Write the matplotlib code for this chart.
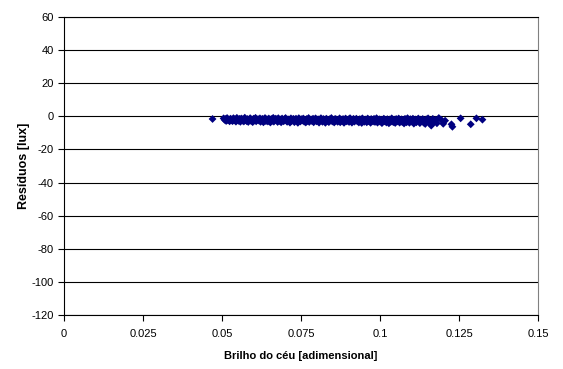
import matplotlib
matplotlib.use("Agg")
import matplotlib.pyplot as plt

plt.rcParams['font.family'] = ['Liberation Sans', 'DejaVu Sans']
plt.rcParams['axes.unicode_minus'] = False

brilho = [
    0.0505,0.0508,0.0511,0.0513,0.0516,0.0519,0.0522,0.0524,0.0527,0.0530,
    0.0533,0.0536,0.0538,0.0541,0.0544,0.0547,0.0550,0.0552,0.0555,0.0558,
    0.0561,0.0564,0.0566,0.0569,0.0572,0.0575,0.0578,0.0580,0.0583,0.0586,
    0.0589,0.0592,0.0594,0.0597,0.0600,0.0603,0.0606,0.0608,0.0611,0.0614,
    0.0617,0.0620,0.0622,0.0625,0.0628,0.0631,0.0634,0.0636,0.0639,0.0642,
    0.0645,0.0648,0.0650,0.0653,0.0656,0.0659,0.0662,0.0664,0.0667,0.0670,
    0.0673,0.0676,0.0678,0.0681,0.0684,0.0687,0.0690,0.0692,0.0695,0.0698,
    0.0701,0.0704,0.0706,0.0709,0.0712,0.0715,0.0718,0.0720,0.0723,0.0726,
    0.0729,0.0732,0.0734,0.0737,0.0740,0.0743,0.0746,0.0748,0.0751,0.0754,
    0.0757,0.0760,0.0762,0.0765,0.0768,0.0771,0.0774,0.0776,0.0779,0.0782,
    0.0785,0.0788,0.0790,0.0793,0.0796,0.0799,0.0802,0.0804,0.0807,0.0810,
    0.0813,0.0816,0.0818,0.0821,0.0824,0.0827,0.0830,0.0832,0.0835,0.0838,
    0.0841,0.0844,0.0846,0.0849,0.0852,0.0855,0.0858,0.0860,0.0863,0.0866,
    0.0869,0.0872,0.0874,0.0877,0.0880,0.0883,0.0886,0.0888,0.0891,0.0894,
    0.0897,0.0900,0.0902,0.0905,0.0908,0.0911,0.0914,0.0916,0.0919,0.0922,
    0.0925,0.0928,0.0930,0.0933,0.0936,0.0939,0.0942,0.0944,0.0947,0.0950,
    0.0953,0.0956,0.0958,0.0961,0.0964,0.0967,0.0970,0.0972,0.0975,0.0978,
    0.0981,0.0984,0.0986,0.0989,0.0992,0.0995,0.0998,0.1000,0.1003,0.1006,
    0.1009,0.1012,0.1014,0.1017,0.1020,0.1023,0.1026,0.1028,0.1031,0.1034,
    0.1037,0.1040,0.1042,0.1045,0.1048,0.1051,0.1054,0.1056,0.1059,0.1062,
    0.1065,0.1068,0.1070,0.1073,0.1076,0.1079,0.1082,0.1084,0.1087,0.1090,
    0.1093,0.1096,0.1098,0.1101,0.1104,0.1107,0.1110,0.1112,0.1115,0.1118,
    0.1121,0.1124,0.1126,0.1129,0.1132,0.1135,0.1138,0.1140,0.1143,0.1146,
    0.1149,0.1152,0.1156,0.1159,0.1163,0.1167,0.1171,0.1176,0.1180,0.1186,
    0.0470,0.1162,0.1193,0.1200,0.1206,0.1226,0.1229,0.1255,0.1287,0.1305,0.1324,
]

residuos = [
    -1.2,-2.1,-1.6,-2.8,-1.0,-2.4,-1.9,-3.0,-1.4,-2.2,
    -2.9,-1.1,-2.5,-1.7,-3.2,-0.9,-2.0,-2.7,-1.5,-3.3,
    -1.3,-2.6,-1.8,-3.1,-0.8,-2.3,-2.9,-1.6,-3.4,-2.0,
    -1.1,-2.8,-1.9,-3.5,-1.4,-2.5,-0.9,-3.0,-2.2,-1.7,
    -2.6,-1.2,-3.3,-2.0,-1.5,-3.6,-2.4,-1.0,-2.9,-1.8,
    -3.1,-1.3,-2.3,-3.7,-1.6,-2.7,-0.9,-3.2,-2.1,-1.4,
    -2.5,-3.4,-1.1,-2.8,-1.9,-3.6,-1.3,-2.2,-3.0,-1.7,
    -1.0,-2.6,-3.3,-1.8,-2.4,-3.8,-1.2,-2.9,-2.0,-1.5,
    -3.5,-2.1,-1.4,-2.7,-3.9,-1.1,-2.3,-3.1,-1.7,-2.5,
    -1.3,-3.2,-2.0,-3.7,-1.6,-2.8,-1.0,-3.4,-2.2,-1.9,
    -2.9,-1.4,-3.6,-2.4,-1.2,-3.0,-2.6,-1.8,-3.8,-2.1,
    -1.1,-2.7,-3.3,-1.6,-2.3,-3.9,-1.4,-2.9,-2.0,-3.5,
    -1.7,-2.5,-1.0,-3.1,-2.2,-3.7,-1.5,-2.8,-1.9,-3.3,
    -2.4,-1.2,-3.6,-2.0,-2.9,-1.6,-3.9,-2.3,-1.3,-3.0,
    -2.6,-1.8,-3.4,-1.1,-2.7,-3.8,-2.1,-1.5,-3.2,-2.4,
    -1.4,-3.0,-2.2,-3.7,-1.7,-2.8,-4.0,-1.2,-2.5,-3.3,
    -1.9,-2.6,-3.6,-1.3,-2.9,-2.1,-3.9,-1.6,-2.4,-3.1,
    -1.5,-3.4,-2.3,-1.1,-3.8,-2.7,-1.8,-3.2,-2.0,-4.1,
    -2.5,-1.4,-3.0,-2.2,-3.7,-1.7,-2.8,-4.2,-1.9,-3.3,
    -1.2,-2.6,-3.5,-2.0,-4.0,-1.6,-3.1,-2.4,-1.3,-3.8,
    -2.7,-1.8,-3.4,-2.1,-4.3,-1.5,-2.9,-3.6,-1.1,-2.3,
    -3.9,-1.7,-2.8,-3.2,-1.4,-4.4,-2.5,-1.9,-3.6,-2.2,
    -1.3,-3.1,-4.1,-2.0,-2.7,-1.6,-3.8,-2.4,-4.6,-1.8,
    -3.0,-1.2,-3.9,-2.5,-4.8,-1.5,-3.3,-2.1,-4.2,-1.0,
    -1.6,-5.6,-2.0,-4.5,-2.6,-4.8,-6.3,-1.2,-4.8,-1.2,-2.0,
]

x_ticks = [0, 0.025, 0.05, 0.075, 0.1, 0.125, 0.15]
x_labels = ['0', '0.025', '0.05', '0.075', '0.1', '0.125', '0.15']
y_ticks = [-120, -100, -80, -60, -40, -20, 0, 20, 40, 60]

fig = plt.figure(figsize=(5.63, 3.69), dpi=100)
ax = fig.add_axes([0.1137, 0.1463, 0.8420, 0.8076])

for yv in y_ticks:
    ax.axhline(yv, color='black', linewidth=0.8, zorder=1)

ax.scatter(brilho, residuos, marker='D', s=16, color='#000080',
           edgecolors='none', zorder=3)

ax.set_xlim(0, 0.15)
ax.set_ylim(-120, 60)
ax.set_xticks(x_ticks)
ax.set_xticklabels(x_labels)
ax.set_yticks(y_ticks)
ax.tick_params(axis='both', direction='out', length=4, width=0.8,
               labelsize=8, colors='black')
ax.tick_params(axis='x', pad=6)

ax.spines['left'].set_color('black')
ax.spines['bottom'].set_color('black')
ax.spines['top'].set_color('black')
ax.spines['right'].set_color('#808080')
for s in ax.spines.values():
    s.set_linewidth(0.8)

ax.set_xlabel('Brilho do céu [adimensional]', fontsize=8, fontweight='bold', labelpad=9)
ax.set_ylabel('Resíduos [lux]', fontsize=9, fontweight='bold', labelpad=1)

fig.savefig('out.png', dpi=100, facecolor='white')
